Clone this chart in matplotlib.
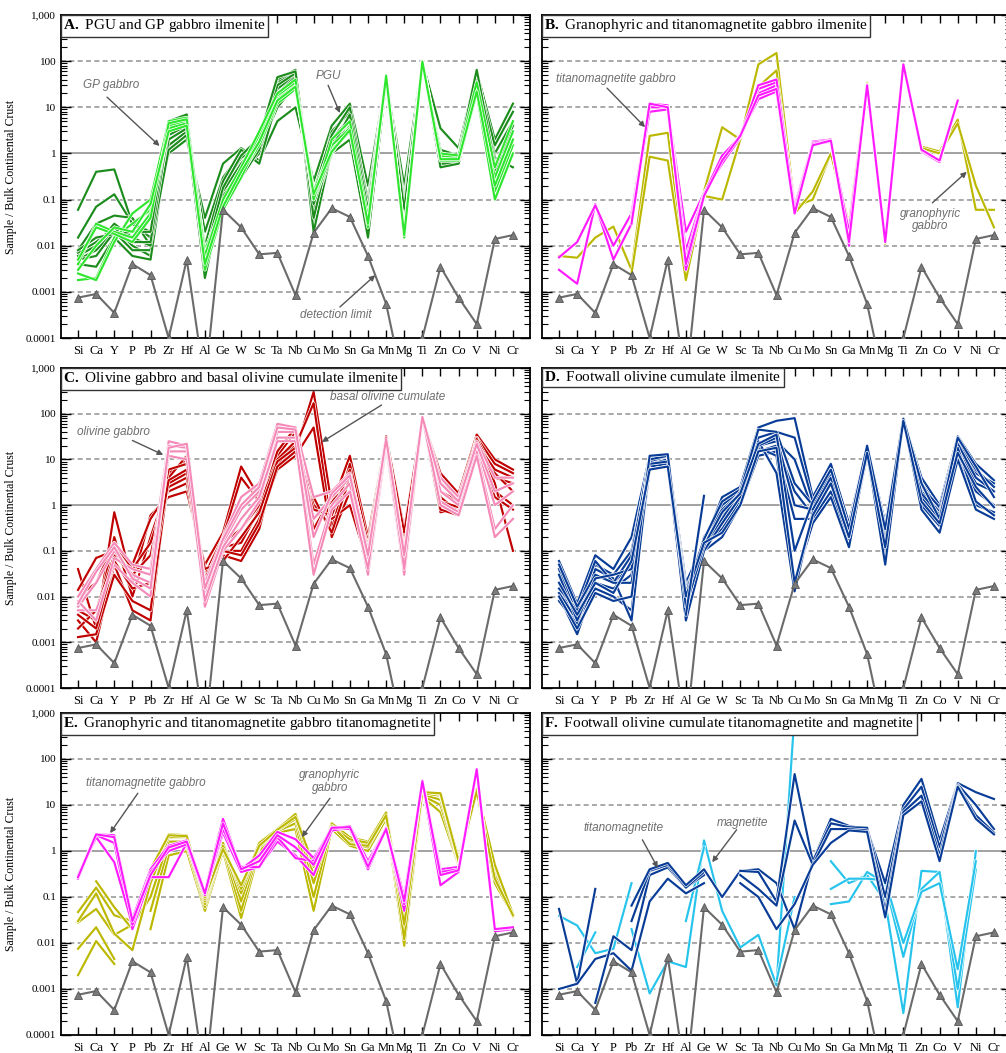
import numpy as np
import matplotlib
matplotlib.use("Agg")
import matplotlib.pyplot as plt
import matplotlib.patheffects as pe
from matplotlib.offsetbox import AnchoredText
from matplotlib.ticker import LogLocator, NullFormatter

plt.rcParams['font.family'] = 'Liberation Serif'
plt.rcParams['mathtext.fontset'] = 'custom'
plt.rcParams['mathtext.rm'] = 'Liberation Serif'
plt.rcParams['mathtext.bf'] = 'Liberation Serif:bold'

nan = np.nan
elements = ['Si', 'Ca', 'Y', 'P', 'Pb', 'Zr', 'Hf', 'Al', 'Ge', 'W', 'Sc', 'Ta', 'Nb',
            'Cu', 'Mo', 'Sn', 'Ga', 'Mn', 'Mg', 'Ti', 'Zn', 'Co', 'V', 'Ni', 'Cr']

detection_limit = [7.5e-4, 9e-4, 3.5e-4, 4e-3, 2.3e-3, 1e-4, 5e-3, 1e-5, 6e-2, 2.5e-2, 6.5e-3, 7e-3, 8.5e-4,
                   1.9e-2, 6.5e-2, 4.2e-2, 6e-3, 5.5e-4, 8e-6, 1e-4, 3.5e-3, 7.5e-4, 2e-4, 1.4e-2, 1.7e-2]

# A. PGU (dark green) and GP gabbro (light green) ilmenite
pgu_ilm = [
    [0.06, 0.4, 0.45, 0.03, 0.02, 1.0, 2.0, 0.04, 0.6, 1.3, 0.7, 5, 10, 0.25, 4, 12, 0.2, 40, 0.2, 95, 3.5, 1.3, 60, 2, 12],
    [0.015, 0.07, 0.13, 0.03, 0.015, 1.5, 3, 0.02, 0.3, 1.0, 1.2, 10, 30, 0.1, 3, 8, 0.1, 45, 0.1, 90, 1.2, 0.9, 50, 1, 5],
    [0.008, 0.03, 0.045, 0.04, 0.01, 2.5, 4, 0.008, 0.2, 0.8, 1.5, 25, 50, 0.05, 2, 6, 0.05, 40, 0.05, 95, 0.8, 0.8, 40, 0.5, 3],
    [0.007, 0.012, 0.025, 0.01, 0.006, 3, 5, 0.005, 0.15, 0.6, 1.8, 35, 60, 0.03, 1.5, 4, 0.03, 45, 0.03, 100, 0.6, 0.6, 30, 0.3, 2],
    [0.005, 0.008, 0.02, 0.008, 0.008, 4, 6, 0.003, 0.1, 0.5, 2, 40, 65, 0.02, 1.2, 3, 0.02, 50, 0.02, 95, 0.5, 0.6, 25, 0.15, 1],
    [0.004, 0.0035, 0.015, 0.006, 0.005, 2, 3.5, 0.002, 0.12, 0.4, 1.0, 20, 45, 0.06, 1.0, 2, 0.015, 35, 0.015, 90, 0.9, 1.0, 55, 0.8, 0.5],
    [0.006, 0.01, 0.03, 0.015, 0.01, 1.2, 2.5, 0.01, 0.25, 1.2, 0.6, 15, 40, 0.15, 2.5, 10, 0.08, 40, 0.08, 85, 1.0, 0.7, 45, 1.5, 8],
    [0.005, 0.006, 0.02, 0.012, 0.012, 3.5, 5.5, 0.004, 0.08, 0.3, 1.2, 30, 55, 0.04, 1.8, 5, 0.04, 45, 0.04, 95, 0.7, 0.8, 35, 0.4, 4],
    [0.008, 0.015, 0.018, 0.02, 0.02, 5, 7, 0.006, 0.18, 0.9, 2.2, 45, 60, 0.08, 1.3, 7, 0.06, 50, 0.06, 100, 0.8, 0.9, 65, 0.6, 1.5],
]
gp_ilm = [
    [0.0018, 0.002, 0.015, 0.03, 0.06, 4, 5, 0.005, 0.07, 0.35, 1.5, 12, 25, 0.12, 1.2, 3, 0.03, 45, 0.018, 100, 0.8, 0.8, 25, 0.15, 1.5],
    [0.0025, 0.0018, 0.012, 0.05, 0.1, 5, 6, 0.003, 0.06, 0.3, 2, 15, 30, 0.1, 1.0, 4, 0.025, 50, 0.015, 95, 0.7, 0.7, 20, 0.1, 1.0],
    [0.004, 0.03, 0.02, 0.015, 0.05, 3.5, 4.5, 0.008, 0.08, 0.45, 2.5, 18, 35, 0.15, 1.5, 3.5, 0.035, 45, 0.02, 100, 0.9, 0.8, 30, 0.3, 3],
    [0.005, 0.025, 0.018, 0.012, 0.04, 4.5, 5.5, 0.006, 0.1, 0.5, 3, 20, 40, 0.1, 2, 5, 0.04, 40, 0.02, 90, 1.0, 0.9, 35, 0.5, 5],
    [0.003, 0.01, 0.025, 0.02, 0.08, 3, 4, 0.004, 0.07, 0.4, 1.8, 14, 28, 0.13, 1.1, 3.2, 0.03, 48, 0.017, 98, 0.75, 0.75, 22, 0.2, 2],
]

# B. titanomagnetite gabbro (magenta) and granophyric gabbro (olive) ilmenite
tmg_ilm = [
    [0.003, 0.0015, 0.08, 0.005, 0.03, 12, 11, 0.003, 0.12, 0.7, 2.5, 15, 22, 0.05, 1.6, 1.9, 0.01, 30, 0.012, 85, 1.2, 0.7, 14, nan, nan],
    [0.0056, 0.012, 0.075, 0.01, 0.05, 11, 10, 0.02, 0.14, 0.6, 2.2, 20, 30, 0.06, 1.8, 2.0, 0.015, 30, 0.012, 85, 1.2, 0.7, 14, nan, nan],
    [nan, nan, nan, nan, 0.05, 10, 10, 0.008, 0.13, 0.8, 2.5, 25, 35, 0.07, 1.7, 1.9, 0.012, 30, 0.012, 85, 1.1, 0.65, 13, nan, nan],
    [nan, nan, nan, nan, 0.04, 8, 9, 0.005, 0.13, 0.9, 2.3, 30, 40, 0.06, 1.6, 1.8, 0.02, 30, 0.012, 85, 1.15, 0.7, 14, nan, nan],
    [nan, nan, nan, nan, 0.03, 12, 10, 0.004, 0.12, 0.7, 2.4, 18, 25, 0.05, 1.5, 1.9, 0.012, 30, 0.012, 85, 1.2, 0.7, 14, nan, nan],
]
gran_ilm = [
    [0.006, 0.0055, 0.015, 0.026, 0.003, 2.4, 2.8, 0.0025, 0.15, 3.7, 2, 85, 150, 0.07, 0.1, 1, 0.03, 34, 0.012, 85, 1.4, 1.1, 5.4, 0.06, 0.06],
    [nan, nan, nan, nan, 0.0025, 0.85, 0.7, 0.0018, 0.12, 0.1, 2, 28, 63, 0.05, 0.15, 1, 0.025, 32, 0.011, 85, 1.3, 1.0, 4.5, 0.2, 0.025],
]

# C. basal olivine cumulate (dark red) and olivine gabbro (pink) ilmenite
basal_ilm = [
    [0.04, 0.002, 0.7, 0.02, 0.6, 1.5, 2, 0.05, 0.25, 7, 1.5, 8, 15, 300, 1.0, 12, 0.2, 30, 0.3, 80, 5, 1.8, 35, 10, 6],
    [0.014, 0.07, 0.1, 0.05, 0.5, 2, 3, 0.03, 0.2, 4, 1.2, 10, 20, 170, 0.3, 8, 0.15, 30, 0.2, 80, 3, 1.5, 30, 8, 5],
    [0.005, 0.003, 0.2, 0.01, 0.2, 3, 5, 0.02, 0.1, 0.1, 0.5, 6, 12, 50, 0.2, 2, 0.08, 25, 0.1, 80, 1, 1.0, 25, 4, 3],
    [0.003, 0.001, 0.05, 0.005, 0.003, 5, 10, 0.015, 0.08, 0.06, 0.3, 12, 40, 1.0, 0.5, 1, 0.05, 30, 0.08, 85, 0.7, 0.8, 20, 2, 1],
    [0.0013, 0.0015, 0.03, 0.008, 0.005, 4, 12, 0.012, 0.12, 0.15, 0.8, 15, 50, 0.5, 1.2, 3, 0.06, 28, 0.05, 80, 0.8, 0.6, 30, 3, 0.1],
    [0.002, 0.005, 0.08, 0.03, 0.08, 6, 8, 0.025, 0.15, 0.3, 1.0, 10, 25, 0.3, 1.5, 5, 0.1, 30, 0.15, 80, 1.5, 0.7, 28, 5, 2],
    [0.01, 0.02, 0.15, 0.04, 0.15, 2.5, 4, 0.04, 0.06, 0.2, 0.7, 9, 18, 1.5, 0.25, 4, 0.12, 32, 0.25, 82, 2, 1.2, 18, 1.5, 0.8],
    [0.004, 0.002, 0.06, 0.015, 0.02, 3.5, 6, 0.01, 0.1, 0.08, 0.4, 7, 15, 0.8, 0.6, 6, 0.07, 30, 0.1, 80, 1.2, 0.9, 22, 6, 4],
]
olgab_ilm = [
    [0.01, 0.04, 0.15, 0.05, 0.04, 25, 20, 0.02, 0.2, 1.5, 3, 60, 50, 1.5, 2, 5, 0.1, 25, 0.1, 85, 4, 1.5, 25, 4, 4],
    [0.006, 0.02, 0.1, 0.03, 0.02, 20, 18, 0.01, 0.15, 0.8, 2, 40, 40, 0.5, 1.5, 4, 0.06, 22, 0.05, 85, 2, 1.0, 20, 1, 2],
    [0.005, 0.005, 0.05, 0.02, 0.01, 15, 15, 0.006, 0.1, 0.3, 1.2, 30, 30, 0.05, 1.0, 3, 0.03, 20, 0.03, 80, 1.2, 0.7, 15, 0.3, 1],
    [0.008, 0.003, 0.07, 0.04, 0.03, 12, 10, 0.008, 0.12, 0.5, 1.5, 25, 25, 0.03, 0.8, 2, 0.04, 25, 0.04, 85, 1, 0.6, 12, 0.2, 0.5],
    [0.007, 0.035, 0.12, 0.025, 0.015, 18, 22, 0.015, 0.18, 1.0, 2.5, 50, 45, 0.2, 1.8, 4.5, 0.08, 28, 0.08, 85, 3, 1.2, 22, 2, 3],
]

# D. footwall olivine cumulate ilmenite (navy)
fw_ilm = [
    [0.06, 0.007, 0.08, 0.04, 0.2, 12, 13, 0.02, 0.15, 1.5, 2.5, 50, 70, 80, 1.5, 8, 0.4, 20, 0.4, 75, 4, 1.0, 32, 8, 3.5],
    [0.04, 0.004, 0.05, 0.03, 0.1, 10, 11, 0.015, 0.12, 1.0, 2, 30, 40, 30, 1.2, 6, 0.3, 18, 0.3, 75, 3, 0.8, 28, 5, 3],
    [0.02, 0.002, 0.03, 0.02, 0.05, 8, 10, 0.01, 0.1, 0.6, 1.5, 20, 25, 10, 0.8, 5, 0.25, 15, 0.2, 70, 2, 0.6, 20, 3, 2],
    [0.01, 0.0015, 0.02, 0.015, 0.03, 7, 8, 0.006, 0.15, 0.3, 1.2, 15, 20, 2, 0.6, 3, 0.2, 12, 0.1, 70, 1.5, 0.5, 15, 2, 1],
    [0.012, 0.003, 0.015, 0.01, 0.005, 6, 7, 0.004, 0.1, 0.2, 1.0, 12, 15, 0.5, 0.5, 2, 0.15, 12, 0.08, 72, 1.0, 0.35, 12, 1, 0.7],
    [0.008, 0.0025, 0.04, 0.025, 0.003, 9, 12, 0.005, 0.2, 0.8, 1.8, 18, 12, 0.02, 0.4, 1.5, 0.12, 15, 0.05, 75, 0.8, 0.25, 10, 0.8, 0.5],
    [0.015, 0.005, 0.06, 0.02, 0.08, 11, 12, 0.012, 0.18, 1.2, 2.2, 25, 5, 0.013, 0.7, 4, 0.3, 20, 0.3, 78, 2.5, 0.9, 25, 6, 2.5],
    [0.05, 0.006, 0.03, 0.02, 0.02, 10, 12, 0.008, 0.12, 0.5, 2, 45, 40, 3, 1.0, 5, 0.25, 18, 0.25, 72, 2, 0.7, 22, 4, 2],
    [0.03, 0.003, 0.025, 0.03, 0.04, 8, 9, 0.003, 0.1, 0.4, 1.5, 20, 30, 1, 0.8, 4, 0.2, 16, 0.15, 75, 1.8, 0.6, 18, 1.2, 0.6],
    [0.01, 0.002, 0.012, 0.008, 0.01, 12, 13, 0.006, 0.13, 0.7, 1.8, 22, 35, 0.1, 1.2, 6, 0.3, 20, 0.3, 78, 3, 0.5, 30, 7, 1.5],
    [0.02, 0.004, 0.02, 0.012, 0.06, 6, 7, 0.01, 0.15, 0.25, 1.0, 15, 18, 0.02, 0.6, 3, 0.2, 14, 0.12, 70, 1.2, 0.4, 14, 2.5, 0.9],
    [nan, nan, nan, nan, nan, nan, nan, 0.004, 1.6, nan, nan, nan, nan, nan, nan, nan, nan, nan, nan, nan, nan, nan, nan, nan, nan],
]

# E. titanomagnetite gabbro (magenta) and granophyric gabbro (olive) titanomagnetite
tmg_tmt = [
    [0.3, 2.3, 2.2, 0.033, 0.4, 1.3, 1.7, 0.13, 5, 0.4, 0.8, 2.6, 1.8, 0.7, 3, 3.5, 0.6, 3, 0.1, 34, 0.4, 0.45, 60, 0.02, 0.022],
    [0.25, 2.2, 1.5, 0.02, 0.27, 0.27, 1.5, 0.12, 2.5, 0.35, 0.45, 1.6, 0.8, 0.3, 2.8, 3.2, 0.4, 3, 0.05, 30, 0.18, 0.35, 55, 0.018, 0.02],
    [0.28, 2.0, 0.57, 0.025, 0.35, 1.0, 1.4, 0.11, 3.0, 0.45, 0.45, 2.0, 0.7, 0.6, 3.3, 3.0, 0.5, 3.2, 0.07, 32, 0.35, 0.4, 58, 0.02, 0.021],
    [0.27, 2.3, 2.0, 0.03, 0.3, 1.2, 1.6, 0.12, 4, 0.4, 0.6, 2.2, 1.2, 0.5, 3.2, 3.3, 0.45, 3, 0.08, 33, 0.3, 0.38, 60, 0.02, 0.022],
]
gran_tmt = [
    [0.002, 0.011, 0.0035, nan, 0.02, 0.8, 1.0, 0.05, 1.0, 0.035, 1.0, 2.5, 3, 0.05, 3, 1.3, 1.0, 5, 0.0087, 15, 7, 0.5, 18, 0.2, 0.04],
    [0.0075, 0.022, 0.0045, nan, 0.05, 1.2, 1.3, 0.06, 1.2, 0.05, 1.2, 2.7, 4, 0.1, 3.5, 1.5, 1.2, 6, 0.015, 16, 10, 0.55, 20, 0.3, 0.045],
    [0.028, 0.055, 0.015, 0.025, 0.1, 1.6, 1.6, 0.07, 1.4, 0.08, 1.3, 2.8, 5, 0.2, 3.8, 1.7, 1.4, 6.5, 0.02, 17, 13, 0.6, 21, 0.4, 0.04],
    [0.03, 0.12, 0.016, 0.007, 0.2, 2.0, 2.0, 0.08, 1.5, 0.12, 1.4, 3.0, 6, 0.3, 4, 2, 1.6, 7, 0.012, 18, 16, 0.65, 19, 0.3, 0.038],
    [0.047, 0.16, 0.04, 0.03, 0.3, 2.3, 2.2, 0.09, 1.3, 0.15, 1.5, 3, 6.4, 0.45, 3.3, 1.8, 1.5, 6.9, 0.03, 20, 17, 0.7, 22, 0.5, 0.042],
    [nan, 0.22, 0.06, 0.02, 0.4, 2.2, 2.1, 0.1, 1.1, 0.18, 1.3, 2.9, 5.5, 0.5, 3.6, 1.4, 1.3, 6, 0.025, 19, 18, 0.6, 20, 0.25, 0.04],
]

# F. footwall olivine cumulate titanomagnetite (navy) and magnetite (light blue)
fw_tmt = [
    [0.055, 0.0013, 0.15, nan, nan, nan, nan, nan, nan, nan, nan, nan, nan, nan, nan, nan, nan, nan, nan, nan, nan, nan, nan, nan, nan],
    [0.001, 0.0013, 0.0045, 0.006, 0.0025, 0.08, 0.25, 0.12, 0.2, nan, nan, nan, nan, nan, nan, nan, nan, nan, nan, nan, nan, nan, nan, nan, nan],
    [nan, nan, 0.0005, 0.014, 0.007, 0.3, 0.44, 0.16, 0.3, nan, nan, nan, nan, nan, nan, nan, nan, nan, nan, nan, nan, nan, nan, nan, nan],
    [nan, nan, nan, nan, 0.03, 0.37, 0.5, 0.16, 0.35, nan, nan, nan, nan, nan, nan, nan, nan, nan, nan, nan, nan, nan, nan, nan, nan],
    [nan, nan, nan, nan, 0.065, 0.4, 0.55, 0.18, 0.4, 0.1, 0.37, 0.4, 0.2, 0.02, 0.6, 5, 3.5, 3, 0.2, 10, 37, 1.7, 30, 19, 13.5],
    [nan, nan, nan, nan, nan, nan, nan, nan, nan, nan, 0.37, 0.35, 0.08, 47, 0.6, 4, 3.3, 3.2, 0.1, 8, 25, 1.2, 28, 10, 3],
    [nan, nan, nan, nan, nan, nan, nan, nan, nan, nan, 0.3, 0.15, 0.065, 4.6, 0.5, 3, 3.0, 2.8, 0.05, 7, 16, 0.8, 26, 6, 2.5],
    [nan, nan, nan, nan, nan, nan, nan, nan, nan, nan, 0.2, 0.1, 0.02, 0.07, 0.5, 1.5, 2.8, 2.6, 0.036, 6, 12, 0.6, 25, 5, 2.3],
]
fw_mag = [
    [0.039, 0.024, 0.006, 0.0075, 0.2, nan, nan, nan, nan, nan, nan, nan, nan, nan, nan, nan, nan, nan, nan, nan, nan, nan, nan, nan, nan],
    [nan, 0.003, 0.017, nan, nan, nan, nan, nan, nan, nan, nan, nan, nan, nan, nan, nan, nan, nan, nan, nan, nan, nan, nan, nan, nan],
    [nan, nan, nan, nan, 0.02, 0.0008, 0.004, 0.003, 1.7, 0.05, 0.008, 0.015, 0.0012, 1000, nan, nan, nan, nan, nan, nan, nan, nan, nan, nan, nan],
    [nan, nan, nan, nan, nan, nan, nan, 0.03, 1.2, nan, nan, nan, 0.0015, 0.1, nan, nan, nan, nan, nan, nan, nan, nan, nan, nan, nan],
    [nan, nan, nan, nan, nan, nan, nan, nan, nan, nan, nan, nan, nan, nan, nan, 0.6, 0.2, 0.3, 0.08, 0.0003, 0.37, 0.35, 0.0004, 1.0, nan],
    [nan, nan, nan, nan, nan, nan, nan, nan, nan, nan, nan, nan, nan, nan, nan, 0.07, 0.08, 0.35, 0.2, 0.005, 0.15, 0.35, 0.001, 0.4, nan],
    [nan, nan, nan, nan, nan, nan, nan, nan, nan, nan, nan, nan, nan, nan, nan, 0.15, 0.25, 0.25, 0.23, 0.01, 0.13, 0.2, 0.0027, 0.6, nan],
]

titles = [r'$\mathbf{A.}$ PGU and GP gabbro ilmenite',
          r'$\mathbf{B.}$ Granophyric and titanomagnetite gabbro ilmenite',
          r'$\mathbf{C.}$ Olivine gabbro and basal olivine cumulate ilmenite',
          r'$\mathbf{D.}$ Footwall olivine cumulate ilmenite',
          r'$\mathbf{E.}$ Granophyric and titanomagnetite gabbro titanomagnetite',
          r'$\mathbf{F.}$ Footwall olivine cumulate titanomagnetite and magnetite']

DARKGREEN = '#1c8c1c'
LIGHTGREEN = '#2ee62e'
MAGENTA = '#ff1aff'
OLIVE = '#bcb800'
DARKRED = '#c00000'
PINK = '#f58ab8'
NAVY = '#083c96'
LIGHTBLUE = '#26c3ec'
GRAY = '#6b6b6b'

# (data, colour) for each panel, drawn in order
panel_series = [
    [(pgu_ilm, DARKGREEN), (gp_ilm, LIGHTGREEN)],
    [(gran_ilm, OLIVE), (tmg_ilm, MAGENTA)],
    [(basal_ilm, DARKRED), (olgab_ilm, PINK)],
    [(fw_ilm, NAVY)],
    [(gran_tmt, OLIVE), (tmg_tmt, MAGENTA)],
    [(fw_mag, LIGHTBLUE), (fw_tmt, NAVY)],
]

# annotations: text, text position, arrow tail, arrow head (x index, value)
panel_notes = [
    [('GP gabbro', (1.8, 30), (1.6, 16.6), (4.5, 1.45)),
     ('PGU', (13.8, 48), (13.8, 30), (14.45, 7.5)),
     ('detection limit', (14.2, 3.2e-4), (14.45, 4.7e-4), (16.4, 2.3e-3))],
    [('titanomagnetite gabbro', (3.15, 42), (2.65, 26), (4.75, 3.7)),
     ('granophyric\ngabbro', (20.5, 0.036), (20.6, 0.085), (22.5, 0.4))],
    [('olivine gabbro', (1.95, 40), (3.0, 26), (4.7, 12.6)),
     ('basal olivine cumulate', (17.1, 235), (16.75, 155), (13.45, 24))],
    [],
    [('titanomagnetite gabbro', (3.75, 30), (3.3, 18), (1.77, 2.45)),
     ('granophyric\ngabbro', (13.9, 32), (13.9, 14), (12.35, 2.0))],
    [('titanomagnetite', (3.55, 3.2), (4.6, 1.75), (5.45, 0.43)),
     ('magnetite', (10.15, 4.1), (9.8, 2.9), (8.45, 0.57))],
]

W, H = 1006, 1053
fig = plt.figure(figsize=(W / 100, H / 100), dpi=100)

col_left = [61, 542]
rows = [(15, 338), (368, 688), (713, 1035)]
axw = 469

x = np.arange(len(elements))
outline = [pe.Stroke(linewidth=2.5, foreground='white'), pe.Normal()]

for i in range(6):
    r, c = divmod(i, 2)
    top, bot = rows[r]
    ax = fig.add_axes([col_left[c] / W, 1 - bot / H, axw / W, (bot - top) / H])
    ax.set_yscale('log')
    ax.set_ylim(1e-4, 1e3)
    ax.set_xlim(-0.94, 24.94)

    for v in [1e-3, 1e-2, 1e-1, 10, 100]:
        ax.axhline(v, color='#9a9a9a', lw=1.2, ls=(0, (3, 2)), zorder=1)
    ax.axhline(1, color='#9a9a9a', lw=1.3, zorder=1)

    for data, col in panel_series[i]:
        for row in data:
            ax.plot(x, row, color=col, lw=1.55, zorder=3, path_effects=outline)

    ax.plot(x, detection_limit, color=GRAY, lw=1.5, marker='^', ms=6,
            mfc='#7a7a7a', mec='#555555', mew=0.6, zorder=4)

    for txt, tpos, tail, head in panel_notes[i]:
        ax.text(tpos[0], tpos[1], txt, ha='center', va='center', fontsize=8.5,
                family='Liberation Sans', style='italic', color='#6e6e6e', zorder=6,
                linespacing=1.1)
        ax.annotate('', xy=head, xytext=tail, zorder=6,
                    arrowprops=dict(arrowstyle='-|>', color='#555555', lw=1.0,
                                    mutation_scale=8, shrinkA=0, shrinkB=0))

    ax.set_xticks(x)
    ax.set_xticklabels(elements, fontsize=9)
    ax.tick_params(axis='x', which='both', direction='in', top=True, bottom=True,
                   length=6, width=1, pad=5)
    ax.set_yticks([1e-4, 1e-3, 1e-2, 1e-1, 1, 10, 100, 1000])
    if c == 0:
        ax.set_yticklabels(['0.0001', '0.001', '0.01', '0.1', '1', '10', '100', '1,000'], fontsize=8)
        ax.set_ylabel('Sample / Bulk Continental Crust', fontsize=8.5, labelpad=6)
    else:
        ax.set_yticklabels([])
    ax.yaxis.set_minor_locator(LogLocator(base=10, subs=np.arange(2, 10), numticks=20))
    ax.yaxis.set_minor_formatter(NullFormatter())
    ax.tick_params(axis='y', which='major', direction='in', left=True, right=True, length=7, width=1)
    ax.tick_params(axis='y', which='minor', direction='in', left=True, right=True, length=4, width=0.8)
    for s in ax.spines.values():
        s.set_linewidth(1.3)

    at = AnchoredText(titles[i], loc='upper left', pad=0.15, borderpad=0.0,
                      prop=dict(size=11, family='Liberation Serif'), frameon=True)
    at.patch.set_linewidth(1.0)
    at.patch.set_edgecolor('#333333')
    at.zorder = 7
    ax.add_artist(at)

fig.savefig('out.png', dpi=100)
